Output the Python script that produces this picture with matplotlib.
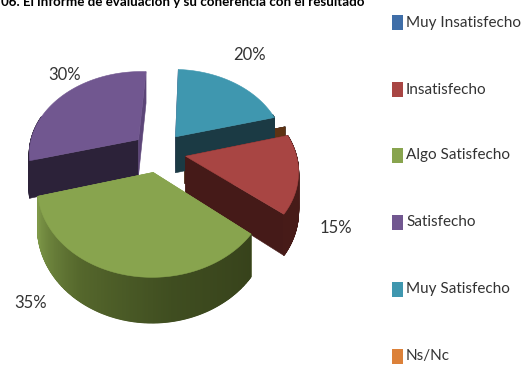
import numpy as np
import matplotlib
matplotlib.use("Agg")
import matplotlib.pyplot as plt
from matplotlib.colors import LinearSegmentedColormap

title = "06. El informe de evaluación y su coherencia con el resultado"
categories = ["Muy Insatisfecho", "Insatisfecho", "Algo Satisfecho", "Satisfecho", "Muy Satisfecho", "Ns/Nc"]
values = [0, 15, 35, 30, 20, 0]
pct_labels = ["", "15%", "35%", "30%", "20%", ""]

top_colors = ["#3F6EA8", "#A84543", "#88A44E", "#715790", "#3F97AF", "#DC8139"]
start_wall_colors = ["#2A4A70", "#451A18", "#88A44E", "#2C2239", "#5C4578", "#5E3314"]
end_wall_colors = ["#2A4A70", "#451A18", "#88A44E", "#5C4578", "#1B3A44", "#5E3314"]
outer_colors = ["#2A4A70", "#471B18", None, "#2C2239", "#1B3A44", "#5E3314"]
green_wall = LinearSegmentedColormap.from_list("g", ["#37421B", "#3F4D20", "#55672C", "#7F9A49"])

label_pos = [None, (336, 228), (31, 303), (65, 75), (250, 55), None]
legend_y = [22.5, 89.5, 155.5, 222.5, 289.5, 356]

start_angle = 75
center = (159, 152)
radius = 110
explode = 27
squash = 0.745
persp = 0.001386
depth = 37

plt.rcParams["font.family"] = ["Lato", "DejaVu Sans"]

fig = plt.figure(figsize=(5.29, 3.67), dpi=100)
ax = fig.add_axes([0, 0, 1, 1])
ax.set_xlim(0, 529)
ax.set_ylim(367, 0)
ax.axis("off")

def project(u, v, z=0):
  s = 1 / (1 + persp * v)
  return center[0] + u * s, center[1] - squash * v * s + z * s

def rim(theta, off_u, off_v, z=0):
  t = np.radians(theta)
  return project(off_u + radius * np.sin(t), off_v + radius * np.cos(t), z)

def fill(points, color, zorder, lw=0.4):
  xs = [p[0] for p in points]
  ys = [p[1] for p in points]
  ax.fill(xs, ys, facecolor=color, edgecolor=color, linewidth=lw, zorder=zorder)

def draw_slice(i, a0, a1, zorder):
  mid = np.radians((a0 + a1) / 2)
  off_u = explode * np.sin(mid)
  off_v = explode * np.cos(mid)
  apex = project(off_u, off_v)
  apex_low = project(off_u, off_v, depth)

  # flat walls on the two cut edges
  for a, color in ((a0, start_wall_colors[i]), (a1, end_wall_colors[i])):
    fill([apex, rim(a, off_u, off_v), rim(a, off_u, off_v, depth), apex_low], color, zorder)
  if values[i] == 0:
    return

  # outer wall, in small steps so the green one can shade
  thetas = np.linspace(a0, a1, 241)
  for j in range(240):
    # the back of the rim faces away from the viewer
    if np.cos(np.radians(thetas[j])) > 0.3:
      continue
    if outer_colors[i] is None:
      color = green_wall((thetas[j] - a0) / (a1 - a0))
    else:
      color = outer_colors[i]
    fill([rim(thetas[j], off_u, off_v), rim(thetas[j + 1], off_u, off_v),
          rim(thetas[j + 1], off_u, off_v, depth), rim(thetas[j], off_u, off_v, depth)], color, zorder, lw=0.8)

  top = [apex] + [rim(t, off_u, off_v) for t in thetas]
  fill(top, top_colors[i], zorder + 0.5)

bounds = start_angle + np.concatenate([[0], np.cumsum(values)]) * 3.6
for z, i in enumerate([0, 5, 3, 4, 1, 2]):
  draw_slice(i, bounds[i], bounds[i + 1], z + 1)

for label, pos in zip(pct_labels, label_pos):
  if pos:
    ax.text(pos[0], pos[1], label, fontsize=12, color="#333333", ha="center", va="center")

for name, color, y in zip(categories, top_colors, legend_y):
  ax.fill([392, 403, 403, 392], [y - 7.5, y - 7.5, y + 7.5, y + 7.5], color=color, linewidth=0)
  ax.text(406, y, name, fontsize=11, color="#333333", ha="left", va="center")

ax.text(1, 6, title, fontsize=9.6, fontweight="bold", color="black", ha="left", va="baseline")

fig.savefig("out.png", dpi=100)
